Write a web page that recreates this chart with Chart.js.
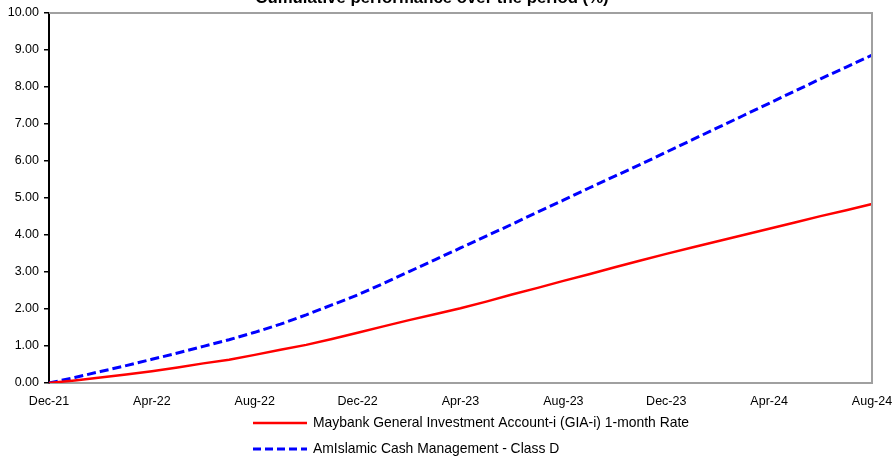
<!DOCTYPE html>
<html>
<head>
<meta charset="utf-8">
<script src="https://cdn.jsdelivr.net/npm/chart.js@4.4.1/dist/chart.umd.min.js"></script>
<style>
  html, body { margin: 0; padding: 0; background: #fff; }
  #wrap { width: 894px; height: 456px; }
</style>
</head>
<body>
<div id="wrap"><canvas id="perfChart" width="894" height="456"></canvas></div>
<script>
// ─── Data ────────────────────────────────────────────────────────────────
const months = [
  'Dec-21', 'Jan-22', 'Feb-22', 'Mar-22', 'Apr-22', 'May-22', 'Jun-22', 'Jul-22', 'Aug-22',
  'Sep-22', 'Oct-22', 'Nov-22', 'Dec-22', 'Jan-23', 'Feb-23', 'Mar-23', 'Apr-23',
  'May-23', 'Jun-23', 'Jul-23', 'Aug-23', 'Sep-23', 'Oct-23', 'Nov-23', 'Dec-23',
  'Jan-24', 'Feb-24', 'Mar-24', 'Apr-24', 'May-24', 'Jun-24', 'Jul-24', 'Aug-24'
];

const xTickLabels = ['Dec-21', 'Apr-22', 'Aug-22', 'Dec-22', 'Apr-23', 'Aug-23', 'Dec-23', 'Apr-24', 'Aug-24'];

const maybankGia = [
  0.00, 0.07, 0.15, 0.23, 0.32, 0.42, 0.53, 0.63, 0.76,
  0.90, 1.03, 1.19, 1.36, 1.53, 1.70, 1.86, 2.02,
  2.20, 2.39, 2.57, 2.76, 2.94, 3.13, 3.31, 3.49,
  3.66, 3.83, 4.00, 4.17, 4.34, 4.51, 4.67, 4.84
];

const amIslamicCash = [
  0.00, 0.15, 0.31, 0.47, 0.64, 0.81, 0.99, 1.17, 1.37,
  1.59, 1.84, 2.11, 2.38, 2.69, 3.01, 3.33, 3.65,
  3.97, 4.29, 4.62, 4.94, 5.27, 5.59, 5.91, 6.24,
  6.57, 6.90, 7.23, 7.56, 7.89, 8.22, 8.54, 8.86
];

const FONT = '"Liberation Sans", Arial, Helvetica, sans-serif';

// ─── Plugins ─────────────────────────────────────────────────────────────
// grey frame on top and right of the plot area
const frame = {
  id: 'frame',
  afterDatasetsDraw(chart) {
    const { ctx, chartArea: a } = chart;
    ctx.save();
    ctx.strokeStyle = '#a0a0a0';
    ctx.lineWidth = 2;
    ctx.beginPath();
    ctx.moveTo(a.left, a.top);
    ctx.lineTo(a.right, a.top);
    ctx.lineTo(a.right, a.bottom);
    ctx.stroke();
    ctx.restore();
  }
};

// title, partly cut off at the top edge
const topTitle = {
  id: 'topTitle',
  afterDraw(chart) {
    const { ctx } = chart;
    ctx.save();
    ctx.font = 'bold 16.8px ' + FONT;
    ctx.fillStyle = '#000';
    ctx.textAlign = 'center';
    ctx.textBaseline = 'alphabetic';
    ctx.fillText('Cumulative performance over the period (%)', 432, 2.5);
    ctx.restore();
  }
};

// stacked legend under the axis
const stackedLegend = {
  id: 'stackedLegend',
  afterDraw(chart) {
    const { ctx } = chart;
    const x0 = 253, x1 = 307, rows = [423, 449];
    ctx.save();
    chart.data.datasets.forEach((ds, i) => {
      const y = rows[i];
      ctx.strokeStyle = ds.borderColor;
      ctx.lineWidth = ds.borderWidth;
      ctx.setLineDash(ds.legendDash || []);
      ctx.beginPath();
      ctx.moveTo(x0, y);
      ctx.lineTo(x1, y);
      ctx.stroke();
      ctx.setLineDash([]);
      ctx.fillStyle = '#000';
      ctx.font = '13.9px ' + FONT;
      ctx.textAlign = 'left';
      ctx.textBaseline = 'middle';
      ctx.fillText(ds.label, 313, y + 0.5);
    });
    ctx.restore();
  }
};

// ─── Chart ───────────────────────────────────────────────────────────────
new Chart(document.getElementById('perfChart'), {
  type: 'line',
  data: {
    labels: months,
    datasets: [
      {
        label: 'Maybank General Investment Account-i (GIA-i) 1-month Rate',
        data: maybankGia,
        borderColor: '#ff0000',
        borderWidth: 2.5,
        pointRadius: 0,
        tension: 0,
      },
      {
        label: 'AmIslamic Cash Management - Class D',
        data: amIslamicCash,
        borderColor: '#0000ff',
        borderWidth: 3,
        borderDash: [9, 4],
        legendDash: [8, 4],
        pointRadius: 0,
        tension: 0,
      },
    ],
  },
  options: {
    responsive: false,
    animation: false,
    devicePixelRatio: 1,
    layout: { padding: { left: 0, right: 22, top: 13, bottom: 0 } },
    plugins: {
      legend: { display: false },
      title: { display: false },
      tooltip: { enabled: false },
    },
    scales: {
      x: {
        offset: false,
        grid: { display: false },
        border: { display: true, color: '#a0a0a0', width: 2 },
        ticks: {
          autoSkip: false,
          maxRotation: 0,
          padding: 3,
          color: '#000',
          font: { family: FONT, size: 12.5 },
          callback(value) {
            const lab = this.getLabelForValue(value);
            return xTickLabels.includes(lab) ? lab : '';
          },
        },
        afterFit(scale) {
          scale.height = 73;
          scale.paddingLeft = 0;
          scale.paddingRight = 0;
        },
      },
      y: {
        min: 0,
        max: 10,
        grid: { drawOnChartArea: false, drawTicks: true, tickLength: 5, color: '#000', lineWidth: 1.5 },
        border: { display: true, color: '#000', width: 2 },
        ticks: {
          stepSize: 1,
          padding: 5,
          color: '#000',
          font: { family: FONT, size: 12.5 },
          callback: (v) => v.toFixed(2),
        },
        afterFit(scale) { scale.width = 49; },
      },
    },
  },
  plugins: [frame, topTitle, stackedLegend],
});
</script>
</body>
</html>
